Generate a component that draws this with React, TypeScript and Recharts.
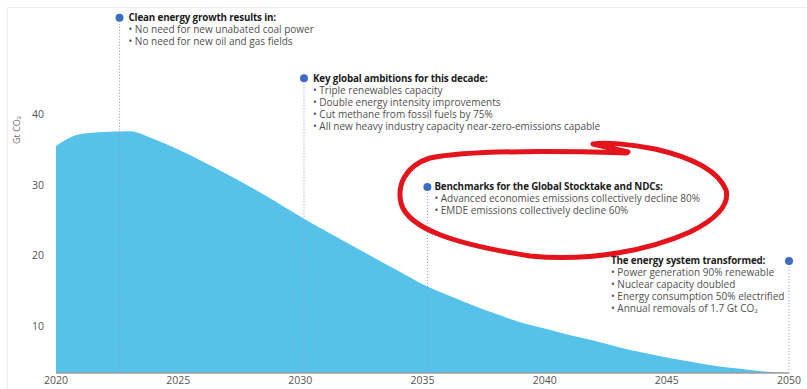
import React from "react";
import { Area, AreaChart, ReferenceDot, ReferenceLine, XAxis, YAxis } from "recharts";

// Net zero pathway, Gt CO2
const years = [
  2020, 2021, 2022, 2023, 2024, 2025, 2026, 2027, 2028, 2029, 2030, 2031, 2032,
  2033, 2034, 2035, 2036, 2037, 2038, 2039, 2040, 2041, 2042, 2043, 2044, 2045,
  2046, 2047, 2048, 2049, 2050,
];
const emissions = [
  35.5, 37.2, 37.5, 37.6, 36.5, 35.0, 33.3, 31.5, 29.6, 27.6, 25.5, 23.5, 21.6,
  19.7, 17.8, 15.9, 14.4, 13.0, 11.7, 10.5, 9.6, 8.7, 7.9, 7.0, 6.2, 5.5, 4.9,
  4.3, 3.9, 3.5, 3.3,
];
const xTicks = [2020, 2025, 2030, 2035, 2040, 2045, 2050];
const yTicks = [10, 20, 30, 40];

// milestone annotations
const noteYears = [2022.6, 2030.15, 2035.2, 2050];
const noteLevels = [53.7, 45.1, 29.7, 19.2];
const noteTitles = [
  "Clean energy growth results in:",
  "Key global ambitions for this decade:",
  "Benchmarks for the Global Stocktake and NDCs:",
  "The energy system transformed:",
];
const noteBullets = [
  ["No need for new unabated coal power", "No need for new oil and gas fields"],
  [
    "Triple renewables capacity",
    "Double energy intensity improvements",
    "Cut methane from fossil fuels by 75%",
    "All new heavy industry capacity near-zero-emissions capable",
  ],
  [
    "Advanced economies emissions collectively decline 80%",
    "EMDE emissions collectively decline 60%",
  ],
  [
    "Power generation 90% renewable",
    "Nuclear capacity doubled",
    "Energy consumption 50% electrified",
    "Annual removals of 1.7 Gt CO₂",
  ],
];

const data = years.map((year, i) => ({ year, value: emissions[i] }));

const Y_MIN = 3.3;
const Y_MAX = 54.8;
const FONT = "'Open Sans', sans-serif";
const textDx = [9, 9, 7, -178];

const NoteLabel = ({ viewBox, index }: any) => {
  if (!viewBox) return null;
  const cx = viewBox.x + viewBox.width / 2;
  const cy = viewBox.y + viewBox.height / 2;
  const tx = cx + textDx[index];
  return (
    <text x={tx} y={cy + 3.5} fontFamily={FONT} fontSize={10}>
      <tspan
        x={tx}
        fontWeight={700}
        fontSize={9.8}
        letterSpacing={-0.15}
        fill="#1c1c1c"
      >
        {noteTitles[index]}
      </tspan>
      {noteBullets[index].map((b, j) => (
        <tspan key={j} x={tx} dy={12} fill="#505050">
          {"• " + b}
        </tspan>
      ))}
    </text>
  );
};

export default function App() {
  return (
    <div
      style={{
        position: "absolute",
        left: 0,
        top: 0,
        width: 807,
        height: 389,
        background: "#fff",
        overflow: "hidden",
      }}
    >
      <div
        style={{
          position: "absolute",
          left: 7,
          top: 7,
          width: 820,
          height: 400,
          borderLeft: "1px solid #ededed",
          borderTop: "1px solid #ededed",
        }}
      />
      <AreaChart
        width={807}
        height={389}
        data={data}
        margin={{ top: 10, right: 18, bottom: 0, left: 0 }}
        style={{ position: "absolute", left: 0, top: 0 }}
      >
        <XAxis
          dataKey="year"
          type="number"
          domain={[2020, 2050]}
          ticks={xTicks}
          allowDataOverflow
          height={16}
          tickLine={false}
          tickSize={4}
          tickMargin={0}
          axisLine={{ stroke: "#9c9c9c", strokeWidth: 1.5 }}
          tick={{ fill: "#555", fontSize: 10.5, fontFamily: FONT }}
        />
        <YAxis
          type="number"
          domain={[Y_MIN, Y_MAX]}
          ticks={yTicks}
          allowDataOverflow
          width={56}
          axisLine={false}
          tickLine={false}
          tickSize={10}
          tickMargin={2}
          tick={{ fill: "#555", fontSize: 10.5, fontFamily: FONT }}
          label={{
            value: "Gt CO₂",
            angle: -90,
            position: "insideTopLeft",
            content: () => (
              <text
                x={20}
                y={130}
                transform="rotate(-90 20 130)"
                textAnchor="middle"
                fontFamily={FONT}
                fontSize={9}
                fill="#666"
              >
                Gt CO₂
              </text>
            ),
          }}
        />
        <Area
          type="monotone"
          dataKey="value"
          baseValue="dataMin"
          stroke="none"
          fill="#56c2e9"
          fillOpacity={1}
          isAnimationActive={false}
        />
        {noteYears.map((yr, i) => (
          <ReferenceLine
            key={`line-${i}`}
            segment={[
              { x: yr, y: noteLevels[i] },
              { x: yr, y: Y_MIN },
            ]}
            stroke="#8797d4"
            strokeDasharray="1 2"
            strokeWidth={1}
            ifOverflow="visible"
          />
        ))}
        {noteYears.map((yr, i) => (
          <ReferenceDot
            key={`dot-${i}`}
            x={yr}
            y={noteLevels[i]}
            r={4}
            fill="#3d6cc4"
            stroke="none"
            ifOverflow="visible"
            label={(props: any) => <NoteLabel {...props} index={i} />}
          />
        ))}
      </AreaChart>
      {/* hand-drawn highlight round the stocktake benchmarks */}
      <svg
        width={807}
        height={389}
        style={{ position: "absolute", left: 0, top: 0, pointerEvents: "none" }}
      >
        <path
          d="M627,153 C560,151 470,150 430,158 C405,166 397,185 401,203 C408,230 460,245 530,256 C590,262 650,250 690,232 C715,220 730,205 726,190 C718,170 690,157 655,149 C630,144 605,142 593,144 L628,152"
          fill="none"
          stroke="#e3141b"
          strokeWidth={5}
          strokeLinecap="round"
          strokeLinejoin="round"
        />
      </svg>
    </div>
  );
}
